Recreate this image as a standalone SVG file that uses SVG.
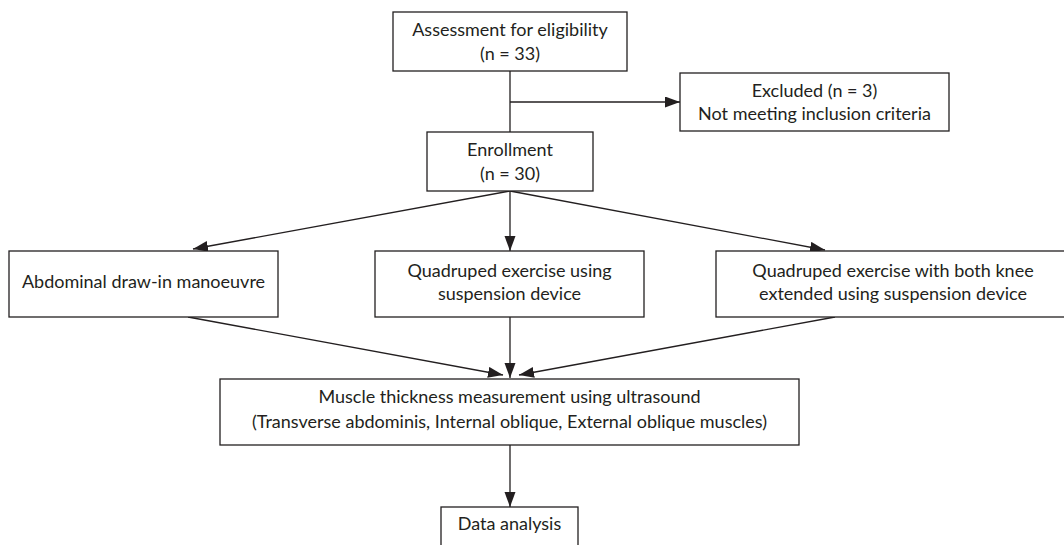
<svg xmlns="http://www.w3.org/2000/svg" width="1064" height="545" viewBox="0 0 1064 545">
<defs>
<marker id="arr" markerUnits="userSpaceOnUse" markerWidth="16" markerHeight="12" refX="15" refY="5.5" orient="auto">
<path d="M0,0 L15,5.5 L0,11 z" fill="#231f20"/>
</marker>
<style>
.box{fill:#fff;stroke:#231f20;stroke-width:1.3}
.t{font-family:Lato,"Liberation Sans",sans-serif;font-size:18px;fill:#231f20;text-anchor:middle}
.c{stroke:#231f20;stroke-width:1.3;fill:none}
.a{marker-end:url(#arr)}
</style>
</defs>
<rect width="1064" height="545" fill="#fff"/>
<g id="connectors">
<line class="c" x1="510" y1="71" x2="510" y2="132"/>
<line class="c a" x1="510" y1="102" x2="680" y2="102"/>
<line class="c a" x1="510" y1="191" x2="193" y2="249"/>
<line class="c a" x1="510" y1="191" x2="510" y2="251"/>
<line class="c a" x1="510" y1="191" x2="825" y2="250"/>
<line class="c a" x1="188" y1="317" x2="503" y2="375"/>
<line class="c a" x1="510" y1="317" x2="510" y2="378"/>
<line class="c a" x1="835" y1="317" x2="519" y2="375"/>
<line class="c a" x1="510" y1="445" x2="510" y2="507"/>
</g>
<g id="assessment">
<rect class="box" x="393" y="12" width="234" height="59"/>
<text class="t" x="510" y="36">Assessment for eligibility</text>
<text class="t" x="510" y="60">(n = 33)</text>
</g>
<g id="excluded">
<rect class="box" x="680" y="73" width="269" height="58"/>
<text class="t" x="814.5" y="97">Excluded (n = 3)</text>
<text class="t" x="814.5" y="120">Not meeting inclusion criteria</text>
</g>
<g id="enrollment">
<rect class="box" x="427" y="132" width="166" height="59"/>
<text class="t" x="510" y="156">Enrollment</text>
<text class="t" x="510" y="180">(n = 30)</text>
</g>
<g id="abdominal">
<rect class="box" x="9" y="251" width="269" height="66"/>
<text class="t" x="143.5" y="288">Abdominal draw-in manoeuvre</text>
</g>
<g id="quadruped">
<rect class="box" x="375" y="251" width="269" height="66"/>
<text class="t" x="509.5" y="277">Quadruped exercise using</text>
<text class="t" x="509.5" y="300">suspension device</text>
</g>
<g id="quadruped-knee">
<rect class="box" x="716" y="251" width="354" height="66"/>
<text class="t" x="893" y="277">Quadruped exercise with both knee</text>
<text class="t" x="893" y="300">extended using suspension device</text>
</g>
<g id="measurement">
<rect class="box" x="220" y="379" width="579" height="66"/>
<text class="t" x="509.5" y="403">Muscle thickness measurement using ultrasound</text>
<text class="t" x="509.5" y="428">(Transverse abdominis, Internal oblique, External oblique muscles)</text>
</g>
<g id="analysis">
<rect class="box" x="441" y="507" width="137" height="60"/>
<text class="t" x="509.5" y="530">Data analysis</text>
</g>
</svg>
